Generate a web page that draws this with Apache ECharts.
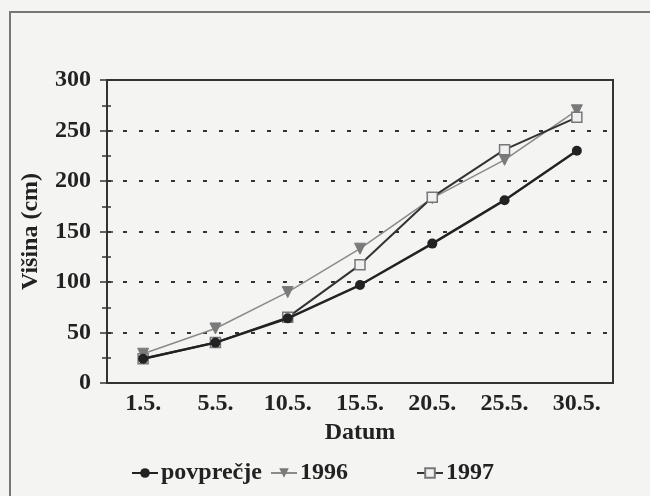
<!DOCTYPE html>
<html><head><meta charset="utf-8">
<script src="https://cdn.jsdelivr.net/npm/echarts@6/dist/echarts.min.js"></script>
<style>html,body{margin:0;padding:0;background:#f4f4f3}#c{width:650px;height:496px}</style>
</head><body><div id="c"></div>
<script>
const categories = ['1.5.', '5.5.', '10.5.', '15.5.', '20.5.', '25.5.', '30.5.'];
const povprecje = [24, 40, 64, 97, 138, 181, 230];
const s1996 = [29, 54, 90, 133, 183, 221, 270];
const s1997 = [24, 40, 65, 117, 184, 231, 263];
const seriesNames = ['povprečje', '1996', '1997'];
const yTicks = [0, 50, 100, 150, 200, 250, 300];

const FONT = '"Liberation Serif", "Times New Roman", serif';
const chart = echarts.init(document.getElementById('c'), null, {renderer: 'canvas'});
const txt = {fontFamily: FONT, fontWeight: 'bold', fontSize: 24, color: '#222'};

function legendFor(name, left) {
  return {
    data: [name], left: left, top: 456, itemWidth: 26, itemHeight: 12,
    textStyle: Object.assign({}, txt, {padding: [0, 0, 0, -2]}), itemGap: 0
  };
}

chart.setOption({
  backgroundColor: '#f4f4f3',
  animation: false,
  graphic: [{
    type: 'rect', shape: {x: 10, y: 12, width: 700, height: 600},
    style: {fill: 'none', stroke: '#777', lineWidth: 2}, z: -1
  }],
  grid: {left: 107, right: 37, top: 80, bottom: 113, show: true, borderColor: '#333', borderWidth: 2, backgroundColor: 'transparent'},
  legend: [legendFor(seriesNames[0], 126), legendFor(seriesNames[1], 265), legendFor(seriesNames[2], 411)],
  xAxis: {
    type: 'category', data: categories, boundaryGap: true,
    name: 'Datum', nameLocation: 'middle', nameGap: 34,
    nameTextStyle: txt,
    axisLine: {lineStyle: {color: '#333', width: 2}},
    axisTick: {alignWithLabel: true, length: 7, lineStyle: {color: '#333', width: 1.5}},
    axisLabel: Object.assign({}, txt, {margin: 9}),
    splitLine: {show: false}
  },
  yAxis: [{
    type: 'value', min: 0, max: 300, interval: 50,
    name: 'Višina (cm)', nameLocation: 'middle', nameGap: 64,
    nameTextStyle: txt,
    axisLine: {show: true, lineStyle: {color: '#333', width: 2}},
    axisTick: {show: true, length: 7, lineStyle: {color: '#333', width: 1.5}},
    minorTick: {show: true, splitNumber: 2, length: 5, lineStyle: {color: '#333', width: 1.5}},
    axisLabel: Object.assign({}, txt, {margin: 16, formatter: v => yTicks.includes(v) ? String(v) : ''}),
    splitLine: {show: true, lineStyle: {color: '#333', width: 2, type: [4, 12]}}
  }, {
    type: 'value', min: 0, max: 300, interval: 50, position: 'left',
    axisLine: {show: false},
    axisTick: {show: true, inside: true, length: 6, lineStyle: {color: '#333', width: 1.5}},
    minorTick: {show: true, splitNumber: 2, length: 4, lineStyle: {color: '#333', width: 1.5}},
    axisLabel: {show: false}, splitLine: {show: false}
  }],
  series: [{
    name: seriesNames[1], type: 'line', data: s1996, z: 2,
    symbol: 'triangle', symbolRotate: 180, symbolSize: 11,
    lineStyle: {color: '#8a8a8a', width: 1.5},
    itemStyle: {color: '#7a7a7a', borderColor: '#7a7a7a'}
  }, {
    name: seriesNames[2], type: 'line', data: s1997, z: 3,
    symbol: 'rect', symbolSize: 10,
    lineStyle: {color: '#333', width: 2},
    itemStyle: {color: '#f0f0f0', borderColor: '#777', borderWidth: 1.5}
  }, {
    name: seriesNames[0], type: 'line', data: povprecje, z: 4,
    symbol: 'circle', symbolSize: 10,
    lineStyle: {color: '#222', width: 2.5},
    itemStyle: {color: '#222'}
  }]
});
</script></body></html>
